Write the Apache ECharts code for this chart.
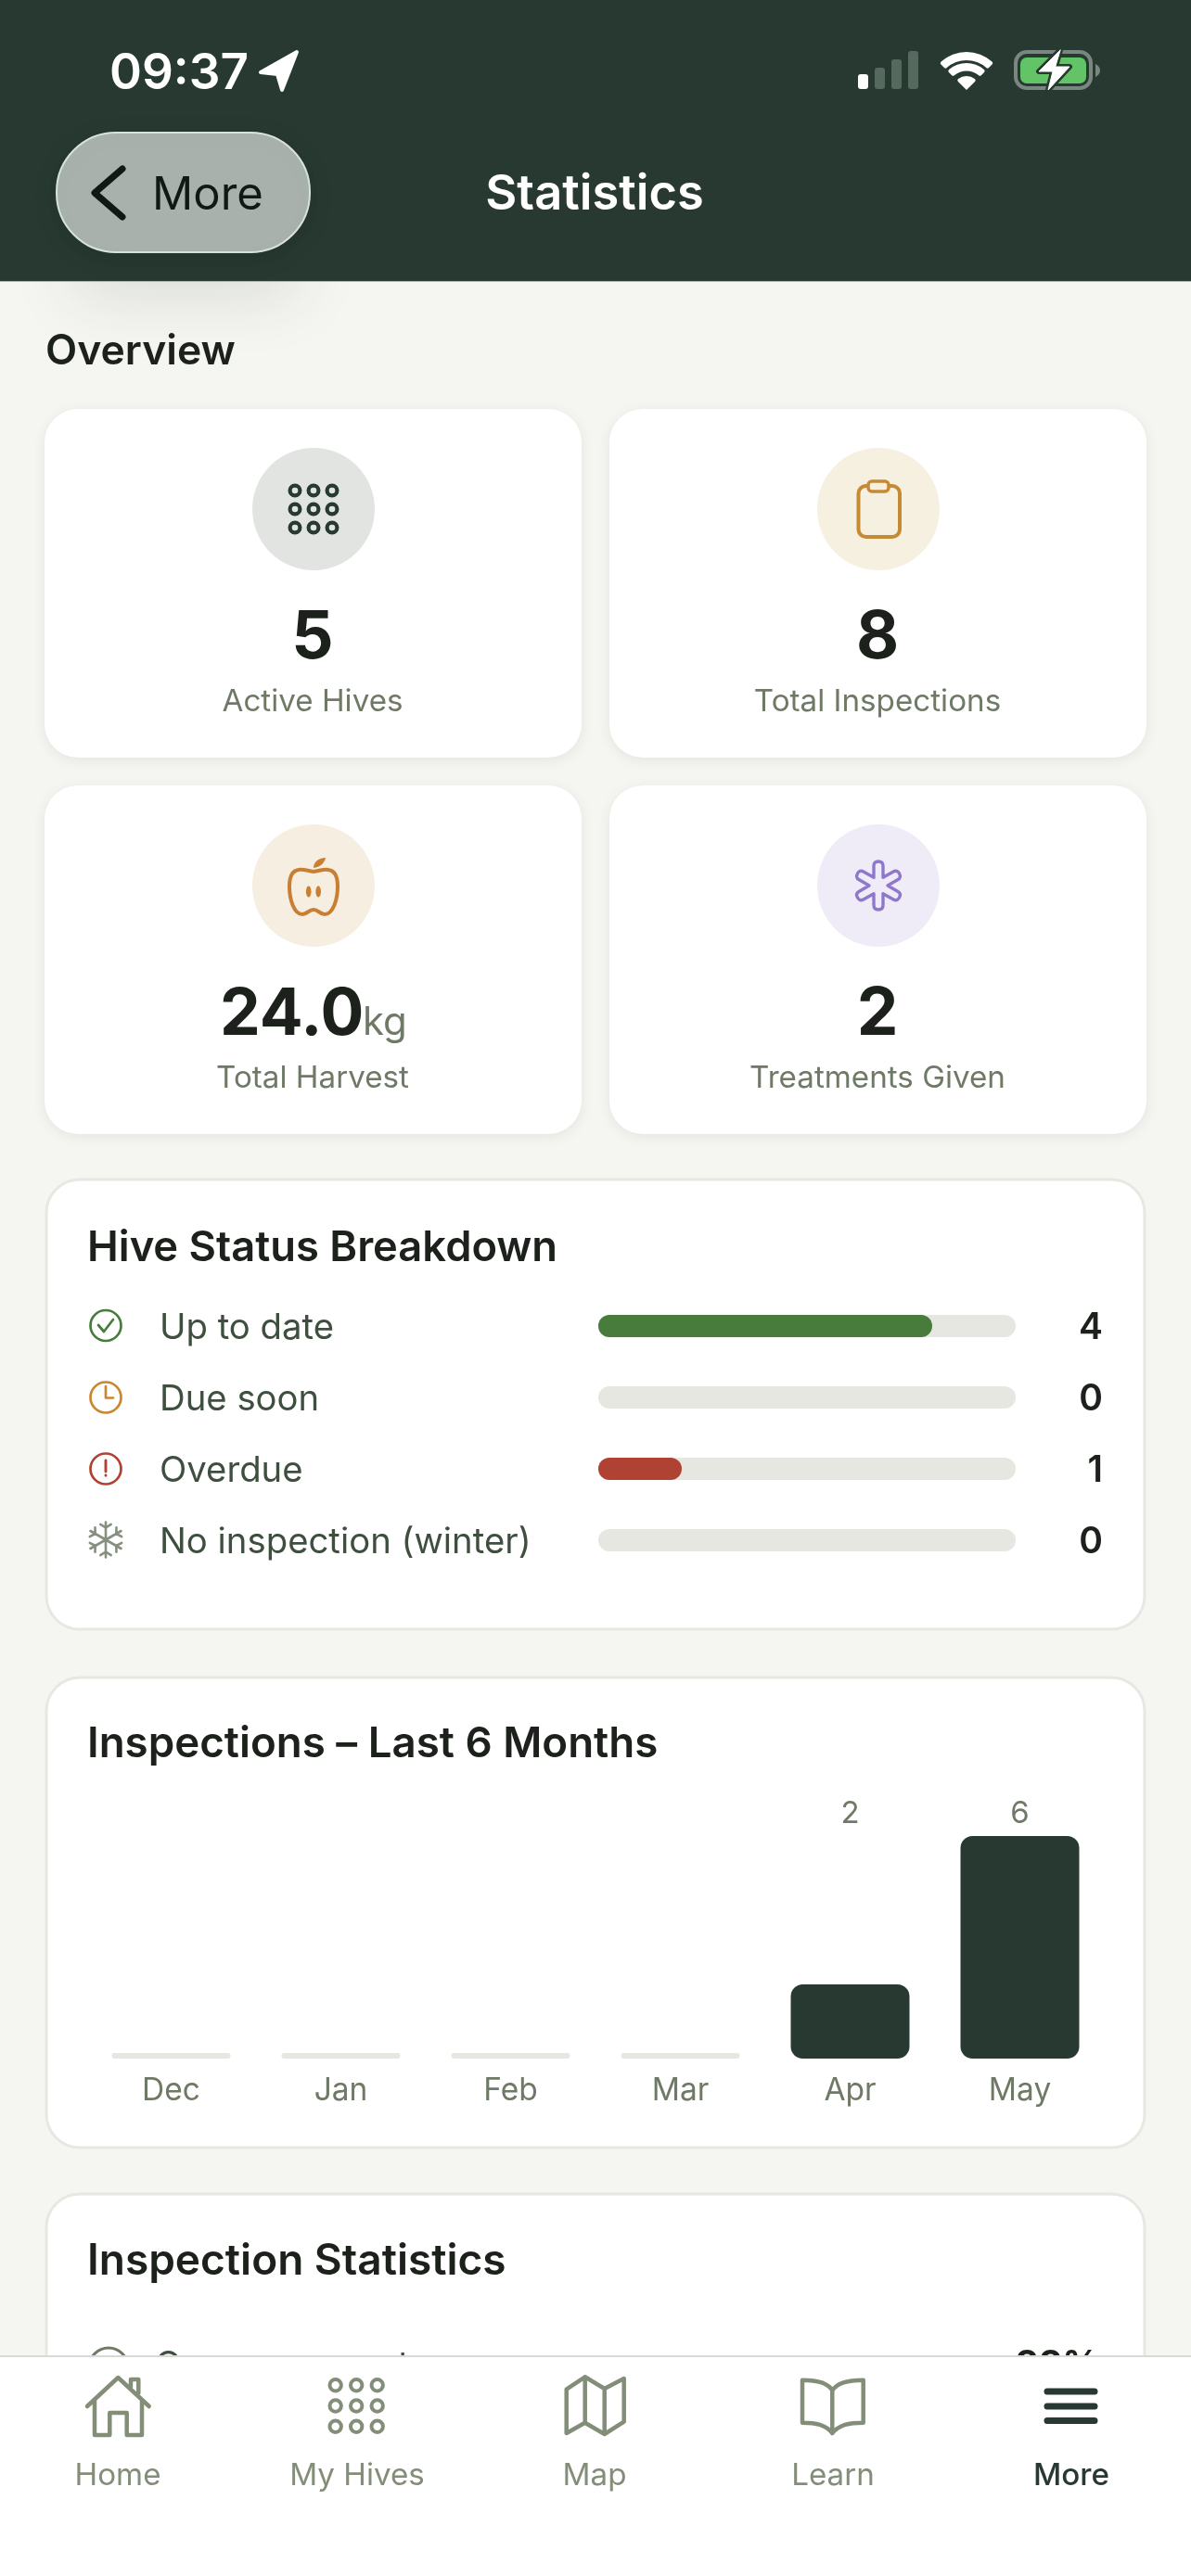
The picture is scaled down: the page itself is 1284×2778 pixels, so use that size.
<!DOCTYPE html>
<html><head><meta charset="utf-8">
<style>html,body{margin:0;padding:0;background:#f5f6f1}#c{width:1284px;height:2778px}</style>
<script src="https://cdn.jsdelivr.net/npm/echarts@6/dist/echarts.min.js"></script>
</head><body><div id="c"></div>
<script>
// ---- data ----
const overviewLabels = ['Active Hives','Total Inspections','Total Harvest','Treatments Given'];
const overviewValues = ['5','8','24.0','2'];
const statusLabels = ['Up to date','Due soon','Overdue','No inspection (winter)'];
const statusValues = [4,0,1,0];
const statusTotal = 5;
const months = ['Dec','Jan','Feb','Mar','Apr','May'];
const inspections = [0,0,0,0,2,6];
const navLabels = ['Home','My Hives','Map','Learn','More'];
// ---- styles ----
const statusColors = ['#487c3d','#cb8630','#b04233','#859080'];
const DARK='#273930', INK='#1c211b', MUTED='#6f7a66', NAV='#838e79', TRACK='#e5e7e0', BG='#f5f6f1';
const FONT='Inter';

const g=[];
const add=o=>{o.silent=true;g.push(o);return o;};
const T=(x,base,text,size,weight,fill,align)=>add({type:'text',x:x,y:base-0.30*size,style:{text:text,fontFamily:FONT,fontSize:size,fontWeight:weight,fill:fill,align:align||'left',verticalAlign:'middle'}});
const R=(x,y,w,h,r,style)=>add({type:'rect',shape:{x:x,y:y,width:w,height:h,r:r},style:style});
const C=(cx,cy,r,style)=>add({type:'circle',shape:{cx:cx,cy:cy,r:r},style:style});
let pathCount=0;
const P=(d,style)=>{const name='iconPath'+(pathCount++);
  echarts.graphic.registerShape(name,echarts.graphic.extendPath(d,{}));
  return add({type:name,style:Object.assign({fill:'none',lineCap:'round',lineJoin:'round'},style)});};
const ST=(color,w)=>({fill:'none',stroke:color,lineWidth:w});

// page background shadow of the glass button
R(75,230,250,55,40,{fill:'#cfd1cb',shadowBlur:70,shadowColor:'rgba(40,45,40,.15)',shadowOffsetY:30});
// header
R(0,0,1284,303,0,{fill:DARK});
R(0,303,1284,1,0,{fill:'#aeb5ae'});
// status bar
T(118,96,'09:37',53,600,'#fff');
P('M320 56L281 78L299 80L304 97Z',{fill:'#fff',stroke:'#fff',lineWidth:4});
R(925,80,11,16,3,{fill:'#fff'});
R(943,73,11,23,3,{fill:'#56695f'});
R(961,64,11,32,3,{fill:'#56695f'});
R(979,55,11,41,3,{fill:'#56695f'});
const sect=(r0,r)=>add({type:'sector',shape:{cx:1042,cy:97,r0:r0,r:r,startAngle:-Math.PI*0.75,endAngle:-Math.PI*0.25,cornerRadius:2},style:{fill:'#fff'}});
sect(32,41);sect(20.5,29);sect(0,15);
R(1095,56,81,39,12,{fill:'none',stroke:'#78877f',lineWidth:4});
R(1100,62,71,28,7,{fill:'#62c466'});
P('M1181 69C1185 71 1186 74 1186 76C1186 78 1185 81 1181 83Z',{fill:'#78877f'});
P('M1143 54L1120 77L1135 77L1130 97L1153 72L1138 72Z',{fill:'#fff',stroke:DARK,lineWidth:6});
P('M1143 54L1120 77L1135 77L1130 97L1153 72L1138 72Z',{fill:'#fff',stroke:'#fff',lineWidth:1});
// glass button
R(61,143,273,129,64,{fill:'#a9b1ad',stroke:'#d6e3dc',lineWidth:2,shadowBlur:30,shadowColor:'rgba(0,0,0,.08)',shadowOffsetY:6});
P('M132 182L102 208L132 234',ST('#101a15',7));
T(164,226,'More',49,400,'#101a15');
T(641,226,'Statistics',52.4,600,'#fff','center');
// overview
T(49,393,'Overview',44.5,600,INK);
const cardShadow={fill:'#fff',shadowBlur:14,shadowColor:'rgba(60,70,50,.09)',shadowOffsetY:3};
[[48,441],[657,441],[48,847],[657,847]].forEach(p=>R(p[0],p[1],579,376,36,cardShadow));
const cx=[338,947,338,947], cyIcon=[549,549,955,955], iconBg=['#e2e4e2','#f6f0e1','#f7eee2','#efecf8'];
cx.forEach((x,i)=>C(x,cyIcon[i],66,{fill:iconBg[i]}));
const dots=(xs,ys,r,w,c)=>ys.forEach(y=>xs.forEach(x=>C(x,y,r,ST(c,w))));
dots([318,338,358],[529,549,569],5.4,4.2,DARK);
R(925.5,524,44.5,55,8,ST('#c68a35',4));
R(936,519,22,11,4,{fill:'#f6f0e1',stroke:'#c68a35',lineWidth:3.5});
P('M338 940C345 939 349 937 354 938C362 939 364 948 364 956C364 970 359 986 350 986C345 986 343 981 338 981C333 981 331 986 326 986C317 986 312 970 312 956C312 948 314 939 322 938C327 937 331 939 338 940Z',ST('#c97f33',4));
P('M338 936C338 930 343 925 351 925C350 931 345 935 338 936Z',{fill:'#c97f33'});
add({type:'ellipse',shape:{cx:332.7,cy:961.5,rx:2.8,ry:6},style:{fill:'#c97f33'}});
add({type:'ellipse',shape:{cx:343.2,cy:961.5,rx:2.8,ry:6},style:{fill:'#c97f33'}});
// six-armed outlined asterisk
(function(){const c=[947,955],L=26,w=5,v=10;let d='';
 for(let k=0;k<6;k++){const a=-Math.PI/2+k*Math.PI/3,ux=Math.cos(a),uy=Math.sin(a),nx=-uy,ny=ux;
  const p=(s,t)=>(c[0]+ux*s+nx*t).toFixed(1)+' '+(c[1]+uy*s+ny*t).toFixed(1);
  d+=(k?'L':'M')+p(v*0.87,-w)+'L'+p(L-w,-w)+'Q'+p(L,-w)+' '+p(L,0)+'Q'+p(L,w)+' '+p(L-w,w)+'L'+p(v*0.87,w);}
 P(d+'Z',ST('#8f78cc',3.4));})();
const numBase=[710,710,1116,1116], labBase=[767,767,1173,1173];
overviewValues.forEach((v,i)=>{
  if(i===2){T(237,numBase[i],v,69.5,700,INK);T(391,numBase[i],'kg',42,400,MUTED);}
  else T(cx[i]-1,numBase[i],v,71,700,INK,'center');
  T(cx[i]-1,labBase[i],overviewLabels[i],33.2,400,MUTED,'center');
});
// section cards
const sectionCard=(y,h)=>R(50,y,1184,h,36,{fill:'#fff',stroke:'#e6e8e2',lineWidth:3});
sectionCard(1272,485);
T(94,1359.5,'Hive Status Breakdown',45.3,600,INK);
sectionCard(1809,507);
T(94,1895,'Inspections – Last 6 Months',45.7,600,INK);
sectionCard(2366,380);
T(94,2453,'Inspection Statistics',46,600,INK);
// status icons
C(114,1429.5,16.5,ST(statusColors[0],2.7));
P('M106 1429L112 1436L122 1423',ST(statusColors[0],2.7));
C(114,1507,16.5,ST(statusColors[1],2.7));
P('M114 1495V1507.5H122',ST(statusColors[1],2.7));
C(114,1584,16.5,ST(statusColors[2],2.7));
P('M114 1575V1587M114 1591V1591.2',ST(statusColors[2],2.9));
(function(){const c=[114,1660.5],L=19;let d='';
 for(let k=0;k<6;k++){const a=-Math.PI/2+k*Math.PI/3,q=(r,o)=>(c[0]+r*Math.cos(a+o)).toFixed(1)+' '+(c[1]+r*Math.sin(a+o)).toFixed(1);
  d+='M'+q(0,0)+'L'+q(L,0)+'M'+q(13,0)+'L'+q(17.5,0.33)+'M'+q(13,0)+'L'+q(17.5,-0.33);}
 P(d,ST(statusColors[3],2.6));})();
// clipped row of the third card
C(117,2553,21,ST(MUTED,3));
T(167,2563,'Queen seen rate',38,400,'#3f4f3f');
T(1185,2563,'88%',39,700,INK,'right');
// bottom navigation
R(0,2541,1284,237,0,{fill:'#fff'});
R(0,2540,1284,2,0,{fill:'#d8dad5'});
const navX=[127,385,641,898,1155];
navLabels.forEach((t,i)=>T(navX[i],2680,t,33.2,i===4?500:400,i===4?DARK:NAV,'center'));
P('M94 2595L127.3 2564L160.7 2595M102 2588V2626H118.3V2602H136.7V2626H153V2588M141 2574V2566H149.3V2581',ST(NAV,4.5));
dots([361.7,384.2,406.7],[2572.3,2594.5,2616.7],6.2,4,NAV);
P('M630.7 2563.3L651.7 2576L672.7 2565V2611.7L651.7 2625L630.7 2612.7L610.7 2624V2576.7ZM630.7 2563.3V2612.7M651.7 2576V2625',ST(NAV,4.5));
P('M897.3 2578C893 2570 880 2566.7 865 2566.7V2612.7C880 2612.7 890 2615 897.3 2624C905 2615 915 2612.7 930.7 2612.7V2566.7C915 2566.7 902 2570 897.3 2578V2622',ST(NAV,4.5));
P('M1129 2579H1180M1129 2595H1180M1129 2610.5H1180',ST(DARK,7));

const chart=echarts.init(document.getElementById('c'),null,{width:1284,height:2778,devicePixelRatio:1});
chart.setOption({
  animation:false,
  backgroundColor:BG,
  tooltip:{show:false},
  graphic:{elements:g},
  grid:[
    {left:645,width:450,top:1391.5,height:308},
    {left:93,width:1098,top:1980,height:240}
  ],
  xAxis:[
    {gridIndex:0,type:'value',min:0,max:statusTotal,show:false},
    {gridIndex:1,type:'category',data:months,z:5,position:'bottom',axisLine:{show:false},axisTick:{show:false},
     axisLabel:{interval:0,margin:17.5,fontFamily:FONT,fontSize:33.5,color:MUTED}},
    {gridIndex:1,type:'category',data:inspections.map(String),z:5,position:'top',axisLine:{show:false},axisTick:{show:false},
     axisLabel:{interval:0,margin:7,fontFamily:FONT,fontSize:33,color:MUTED,formatter:v=>v==='0'?'':v}}
  ],
  yAxis:[
    {gridIndex:0,type:'category',inverse:true,data:statusLabels,z:5,axisLine:{show:false},axisTick:{show:false},
     axisLabel:{interval:0,align:'left',margin:473,verticalAlign:'top',lineHeight:4,fontFamily:FONT,fontSize:38.3,color:'#3f4f3f'}},
    {gridIndex:0,type:'category',inverse:true,position:'right',data:statusValues.map(String),z:5,axisLine:{show:false},axisTick:{show:false},
     axisLabel:{interval:0,align:'right',margin:94,verticalAlign:'top',lineHeight:4,fontFamily:FONT,fontSize:39,fontWeight:600,color:INK}},
    {gridIndex:1,type:'value',min:0,max:6,show:false}
  ],
  series:[
    {type:'bar',name:'Hive status',xAxisIndex:0,yAxisIndex:0,barWidth:24,showBackground:true,
     backgroundStyle:{color:TRACK,borderRadius:12},
     itemStyle:{borderRadius:12},
     data:statusValues.map((v,i)=>({value:v,itemStyle:{color:statusColors[i]}}))},
    {type:'bar',name:'Inspections',xAxisIndex:1,yAxisIndex:2,barWidth:128,barMinHeight:6,
     itemStyle:{color:DARK,borderRadius:13},
     data:inspections.map(v=>v===0?{value:v,itemStyle:{color:TRACK,borderRadius:3}}:v)}
  ]
});
</script></body></html>
